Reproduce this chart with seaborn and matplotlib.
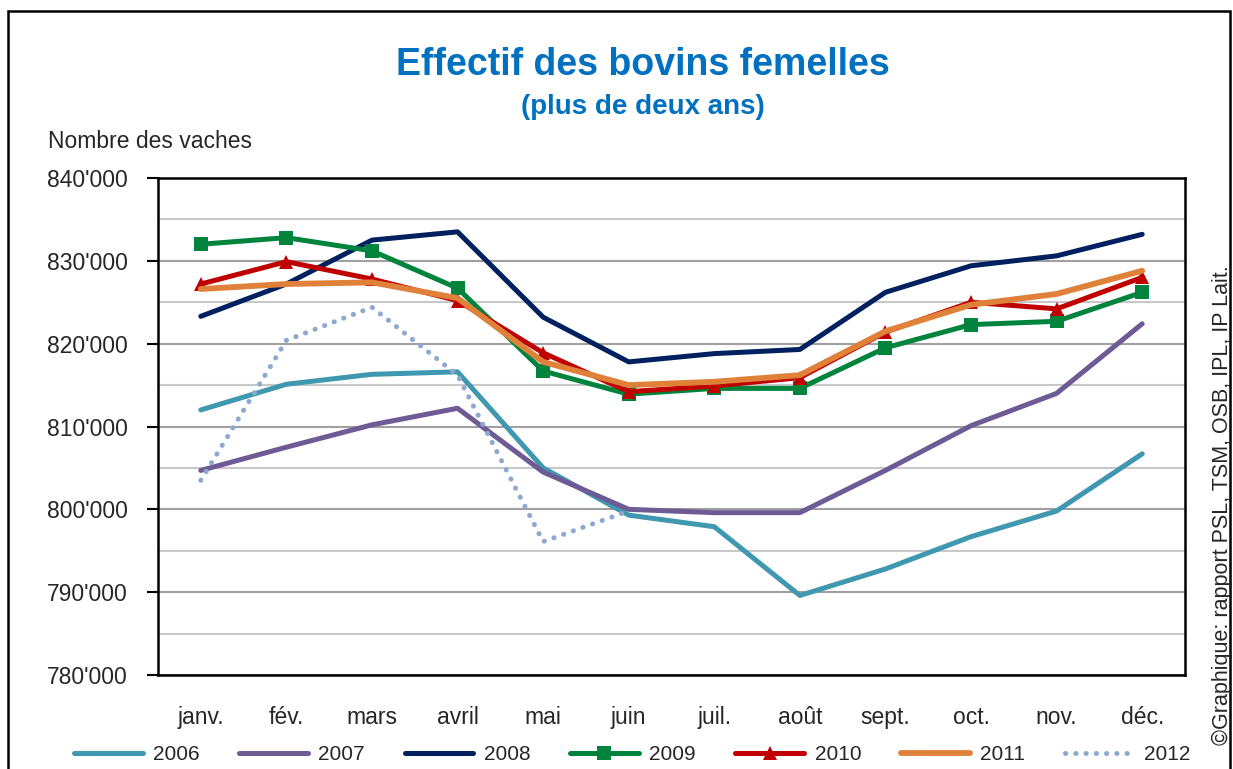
import matplotlib
matplotlib.use('Agg')
import matplotlib.pyplot as plt
import matplotlib.ticker as mticker
from matplotlib.patches import Rectangle
import numpy as np
import pandas as pd
import seaborn as sns

# data
months = ['janv.', 'fév.', 'mars', 'avril', 'mai', 'juin',
          'juil.', 'août', 'sept.', 'oct.', 'nov.', 'déc.']
years = ['2006', '2007', '2008', '2009', '2010', '2011', '2012']

v2006 = [812000, 815100, 816300, 816600, 805000, 799300,
         797900, 789600, 792800, 796700, 799800, 806700]
v2007 = [804700, 807500, 810200, 812200, 804500, 800000,
         799600, 799600, 804700, 810100, 814000, 822400]
v2008 = [823300, 827200, 832500, 833500, 823200, 817800,
         818800, 819300, 826200, 829400, 830600, 833200]
v2009 = [832000, 832800, 831200, 826700, 816700, 813900,
         814600, 814600, 819500, 822300, 822700, 826200]
v2010 = [827200, 829900, 827800, 825200, 818900, 814200,
         814900, 815900, 821400, 825000, 824200, 828000]
v2011 = [826600, 827200, 827400, 825500, 817800, 815000,
         815400, 816200, 821500, 824700, 826000, 828800]
v2012 = [803500, 820400, 824400, 816200, 796100, 799800]

series = [v2006, v2007, v2008, v2009, v2010, v2011, v2012]

colors = ['#3F97B0', '#6E5A94', '#002060', '#00843D', '#C00000', '#E0813A', '#8EA9D0']
markers = [None, None, None, 's', '^', None, None]

rows = []
for yr, vals in zip(years, series):
    for i, v in enumerate(vals):
        rows.append({'year': yr, 'm': i, 'value': v})
df = pd.DataFrame(rows)

sns.set_style('white')
plt.rcParams['font.family'] = ['Liberation Sans', 'DejaVu Sans']

fig = plt.figure(figsize=(12.33, 7.69), dpi=100)
ax = fig.add_axes([158/1233, 1-675/769, (1185-158)/1233, (675-178)/769])

for yr, col, mk in zip(years, colors, markers):
    d = df[df.year == yr]
    kw = dict(color=col, lw=3.6, label=yr, ax=ax, sort=False)
    if mk is not None:
        kw.update(marker=mk, markersize=10, markeredgewidth=0)
    if yr == '2012':
        kw.update(lw=3.6, linestyle=(0, (0.05, 2.0)), dash_capstyle='round')
    if yr == '2011':
        kw.update(lw=4.2)
    sns.lineplot(data=d, x='m', y='value', **kw)

ax.set_xlim(-0.5, 11.5)
ax.set_ylim(780000, 840000)
ax.set_xlabel('')
ax.set_ylabel('')

ax.set_xticks(np.arange(12))
ax.set_xticklabels(months, fontsize=16.5)
ax.set_xticks(np.arange(-0.5, 12, 1), minor=True)
ax.tick_params(axis='x', which='major', length=0, pad=22)
ax.tick_params(axis='x', which='minor', length=7, width=1.5, color='black', direction='out')

ax.yaxis.set_major_locator(mticker.MultipleLocator(10000))
ax.yaxis.set_minor_locator(mticker.MultipleLocator(5000))
ax.yaxis.set_major_formatter(mticker.FuncFormatter(lambda v, p: f"{int(v):,}".replace(',', "'")))
ax.tick_params(axis='y', which='major', length=8, width=1.5, color='black',
               direction='out', labelsize=16.5, pad=14, left=True)
ax.tick_params(axis='y', which='minor', length=0)
ax.grid(axis='y', which='major', color='#A0A0A0', lw=1.5)
ax.grid(axis='y', which='minor', color='#C8C8C8', lw=1.5)
ax.set_axisbelow(True)
for s in ax.spines.values():
    s.set_visible(True)
    s.set_color('black')
    s.set_linewidth(1.8)

fig.text(643/1233, 1-65/769, 'Effectif des bovins femelles', ha='center', va='center',
         fontsize=27, fontweight='bold', color='#0070C0')
fig.text(643/1233, 1-107/769, '(plus de deux ans)', ha='center', va='center',
         fontsize=20, fontweight='bold', color='#0070C0')
fig.text(48/1233, 1-141/769, 'Nombre des vaches', ha='left', va='center', fontsize=16.5)
fig.text(1222/1233, 1-505/769, '©Graphique: rapport PSL, TSM, OSB, IPL, IP Lait.',
         rotation=90, ha='center', va='center', fontsize=15.5)

leg = ax.legend(loc='center', bbox_to_anchor=(632/1233, 1-755/769),
                bbox_transform=fig.transFigure, ncol=7, frameon=False,
                fontsize=15, numpoints=1, handlelength=3.3, handletextpad=0.5,
                columnspacing=1.9)

fig.add_artist(Rectangle((8/1233, -0.1), (1230-8)/1233, 1.1-11/769,
                         transform=fig.transFigure, fill=False, ec='black', lw=1.8))

fig.savefig('out.png', dpi=100)
